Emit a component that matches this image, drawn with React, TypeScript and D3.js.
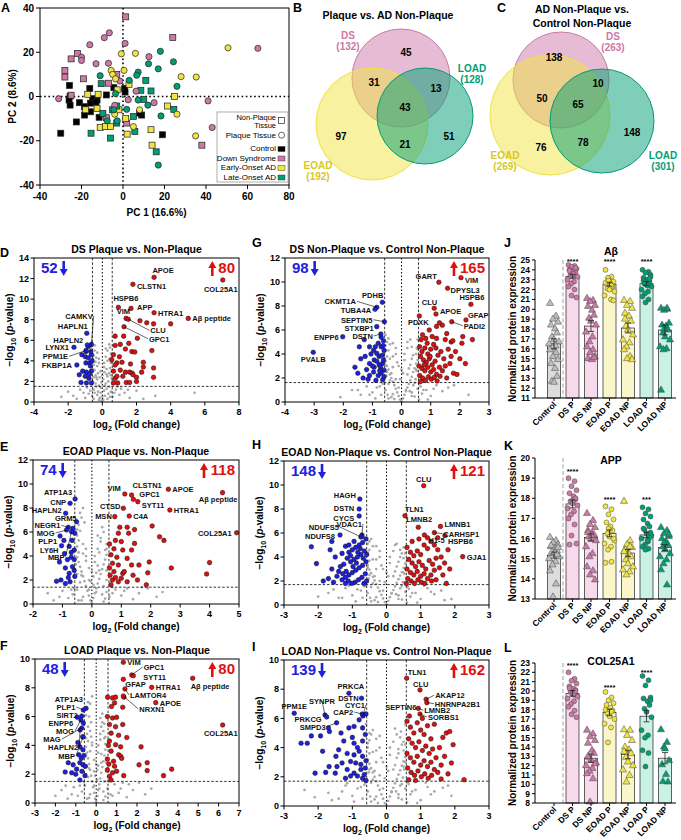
import React from "react";
import * as d3 from "d3";

const FONT = "'Liberation Sans', Arial, Helvetica, sans-serif";
const PINK = "#cc79a7";
const YELLOW = "#f0e442";
const GREEN = "#009e73";
const UP = "#e01010";
const DOWN = "#2020e0";
const GREY = "#a9a9a9";

// ---------- A: PCA ----------
const pcaControl = [[-25.8,5],[-16,3.6],[-4.4,4],[0.8,3.6],[1,2],[-25.5,0.2],[-21,-2.8],[-26,-1.6],[-25.5,-3.9],[-14.6,-1],[-12.5,-1.6],[-18.5,-8.4],[-15.7,-6.9],[-22.5,-11.5],[-30,-16.6],[-11.5,-9.4],[-8,0.7],[9,-8.4],[19,-17.3],[-15.7,-3],[-18.6,-4.6],[8,-7.5],[-13,-2.5]];
const pcaDsNP = [[1.3,36],[24,26.7],[-22,19.5],[-25,17],[-28,11.8],[-28,8.8],[-19,8],[-7,6],[-3,10],[-25,0.6],[1.8,-12],[38,-22],[-8,-9.6]];
const pcaEoadNP = [[-17,1],[-12,1],[-18,-6],[-12.5,-5.4],[-11,-14],[-8.4,-13.6],[-6,-13.6],[-2,-6],[1.3,-10],[2,-17],[13.5,-15],[14,-22],[21.5,-4.3],[24.8,0],[2.9,5.5],[-2.8,3]];
const pcaLoadNP = [[-10.5,5.8],[11,7.3],[8.6,2.8],[13.5,2.5],[10,-1.3],[-3,-4.3],[-5,-6],[5,-9],[5.7,-15.8],[-15.4,-16.6],[-6,-18.8],[16,-25],[24.5,-5.8],[-9.7,-7.6],[-3,-12]];
const pcaDsP = [[-6.6,28.8],[-9,26.6],[-16,23.4],[1,24],[-20,17.8],[-20,16.3],[-13,14.8],[-7,15],[12.5,18],[65,21.8],[-31,-1],[-1.5,7],[6.3,2.4],[15,-2.8],[41,-2],[43,-14],[-4,-4],[2.5,-1.5]];
const pcaEoadP = [[-0.8,19.3],[6,19.5],[50.6,22],[28,9],[35.3,8.8],[-5.7,11.8],[0.5,11.8],[26,-8],[35,-17.8],[-5,10],[-3.6,8],[5,-13.6],[8,-6],[-4,-8]];
const pcaLoadP = [[18,20.4],[12.3,14.8],[17,12.5],[24.3,15.7],[7.3,11],[6.6,9.6],[3,7.3],[-11,9.4],[-3.6,1.3],[26,4.6],[18.3,-8.8],[17,-31],[1.8,-5.8],[-4.4,-6],[-7.6,-11],[-2.8,-11],[12,-3.9],[7.3,-1.6]];
const pcaTicks = [-40, -20, 0, 20, 40, 60, 80];
const pcaYTicks = [-40, -20, 0, 20, 40];

// ---------- B/C: Venn ----------
const vennNames = ["DS", "EOAD", "LOAD"];
const vennBCounts = [45, 31, 13, 43, 97, 21, 51]; // DS, DS+EOAD, DS+LOAD, all, EOAD, EOAD+LOAD, LOAD
const vennBTotals = [132, 192, 128];
const vennCCounts = [138, 50, 10, 65, 76, 78, 148];
const vennCTotals = [263, 269, 301];

// ---------- Volcano D ----------
const dLabels = [["APOE",3.03,12.12],["CLSTN1",1.79,11.44],["COL25A1",7.05,11.86],["Aβ peptide",5.03,8.13],["HTRA1",3.03,8.68],["HSPB6",0.94,9.2],["APP",1.68,9.1],["VIM",1.39,8.13],["CLU",1.52,8.04],["GPC1",1.27,7.32],["CAMKV",-0.68,4.89],["HAPLN1",-0.91,6.68],["HAPLN2",-0.88,5.54],["LYNX1",-1.66,5.32],["PPM1E",-0.95,5.02],["FKBP1A",-1.49,3.6]];
const dRed = [[2.2,7.9],[2.6,7.7],[3.0,7.6],[4.0,7.6],[0.75,6.4],[1.25,6.4],[2.05,6.2],[1.05,5.6],[1.55,5.7],[0.75,5.5],[1.35,5.15],[1.73,4.9],[1.9,4.86],[2.9,5.0],[0.65,4.6],[0.85,3.8],[0.75,3.6],[1.15,3.86],[1.65,3.7],[2.4,3.86],[0.65,3.0],[1.05,3.1],[1.6,2.9],[2.4,3.4],[3.0,3.3],[0.75,2.3],[1.2,2.5],[1.75,2.8],[2.0,2.4],[3.0,2.4],[0.65,1.85],[0.9,1.85],[1.4,1.9],[1.6,1.9],[0.85,2.5],[1.35,2.9],[0.55,4.1],[1.0,4.4],[1.8,2.65],[2.0,2.0],[2.3,2.9]];
const dBlue = [[-1.2,4.6],[-1.0,4.4],[-0.82,4.3],[-0.64,4.6],[-0.96,3.8],[-0.74,3.8],[-1.15,3.0],[-0.93,2.9],[-0.64,3.0],[-1.25,1.9],[-1.0,2.5],[-0.78,2.3],[-0.64,1.85],[-0.93,1.85],[-1.35,2.65],[-0.7,3.5],[-0.82,5.4],[-0.64,5.6],[-0.96,4.9],[-0.6,4.0],[-0.75,2.7]];
const dGrey = [[-0.05,0.1],[0.05,0.2],[0,0.5],[-0.15,0.4],[0.15,0.6],[-0.1,0.9],[0.1,1.1],[-0.25,1.0],[0.25,1.3],[-0.2,1.6],[0.2,1.8],[-0.35,1.5],[0.35,2.0],[-0.3,2.2],[0.3,2.5],[-0.4,2.6],[0.4,2.8],[-0.45,3.1],[0.45,3.3],[-0.5,3.6],[0.5,3.8],[-0.4,3.9],[0.4,4.2],[-0.5,4.5],[0.5,4.7],[-0.45,5.0],[0.45,5.3],[-0.55,2.0],[0.55,2.3],[-0.5,1.2],[0.5,1.0],[-0.6,0.6],[0.6,0.5],[-0.8,0.8],[0.8,1.2],[-1.0,0.4],[1.0,0.7],[-1.3,1.2],[1.3,0.9],[-1.7,0.6],[1.6,0.4],[-2.0,1.0],[2.0,1.1],[-2.4,0.5],[2.4,0.3],[0.9,1.5],[-0.9,1.4],[3.1,0.6],[5.4,0.9],[-0.25,2.8],[0.25,3.2],[-0.3,3.5],[0.3,4.0],[-0.15,2.4],[0.12,2.9],[-0.35,4.3],[0.4,5.6],[-0.2,0.2],[0.3,0.3],[-0.45,0.9],[-0.1,3.0],[0.1,3.4],[-0.2,3.8],[0.2,4.4],[-0.3,4.8],[0.3,5.0],[-0.05,1.9],[0.05,2.2],[-0.4,1.8],[0.4,1.5],[-0.5,2.4],[0.5,2.6],[-0.55,3.2],[0.55,3.0],[-0.55,4.2],[0.55,4.4],[-0.1,1.4],[0.15,1.6],[-0.3,0.7],[0.35,0.8],[0.0,2.6],[-0.45,5.5],[0.2,5.2],[-0.2,4.2],[0.1,3.8],[-0.5,0.3],[0.7,0.9],[-0.7,1.1],[1.1,1.3],[-1.1,0.9],[1.5,1.2],[-1.5,0.3],[0.45,0.5],[-0.35,2.4],[0.25,2.7]];

// ---------- Volcano E ----------
const eLabels = [["ATP1A3",-0.57,8.75],["CNP",-0.74,8.39],["HAPLN2",-0.89,7.56],["GRM5",-0.52,6.86],["NEGR1",-0.8,6.39],["MOG",-0.86,6.17],["PLP1",-1.08,5.67],["LY6H",-1.03,4.86],["MBP",-0.69,6.03],["VIM",1.12,9.17],["CLSTN1",1.35,9.08],["GPC1",1.41,8.73],["SYT11",1.56,8.53],["CTSD",1.07,7.98],["MSN",0.78,7.28],["C4A",1.27,7.33],["APOE",2.6,9.56],["Aβ peptide",4.44,9.28],["HTRA1",2.65,7.83],["COL25A1",4.92,5.94]];
const eBlue = [[-1.1,3.5],[-0.93,4.2],[-0.77,4.8],[-0.7,3.9],[-0.6,4.5],[-0.9,3.0],[-0.77,2.55],[-0.66,3.1],[-1.05,2.0],[-0.9,1.7],[-0.74,1.85],[-0.58,2.3],[-0.83,3.7],[-0.6,3.7],[-0.67,5.3],[-0.58,5.9],[-0.64,6.3],[-0.95,5.3],[-0.6,2.8],[-0.8,2.2],[-1.2,1.9],[-0.7,4.3]];
const eRed = [[2.05,6.5],[2.3,5.6],[2.45,5.3],[2.7,3.0],[4.0,3.45],[3.9,2.5],[1.9,2.6],[1.95,3.5],[1.85,1.6],[0.95,6.4],[1.2,6.4],[1.45,6.2],[0.9,5.9],[1.25,5.9],[0.8,5.3],[1.0,5.2],[1.45,5.05],[0.75,4.6],[1.05,4.5],[1.35,4.5],[0.85,3.9],[1.2,3.8],[0.7,3.4],[0.9,3.25],[1.35,3.25],[1.6,3.25],[0.75,2.7],[1.05,2.55],[1.4,2.4],[0.7,2.0],[0.9,1.85],[1.2,1.85],[1.55,2.0],[0.65,1.6],[0.8,2.2],[1.0,2.15],[1.1,2.7],[0.6,3.0],[0.65,4.1],[0.6,5.0],[0.62,2.4]];
const eGrey = [[0,0.1],[-0.05,0.3],[0.05,0.5],[-0.1,0.7],[0.1,0.9],[-0.15,1.1],[0.15,1.3],[-0.2,1.5],[0.2,1.7],[-0.25,1.9],[0.25,2.1],[-0.3,2.3],[0.3,2.5],[-0.35,2.7],[0.35,2.9],[-0.4,3.1],[0.4,3.3],[-0.45,3.5],[0.45,3.7],[-0.5,3.9],[0.5,4.1],[-0.45,4.3],[0.45,4.5],[-0.5,4.8],[0.5,5.0],[-0.45,5.3],[-0.5,5.7],[-0.4,6.1],[-0.45,6.6],[-0.35,7.2],[-0.3,8.0],[0.3,5.5],[-0.2,3.6],[0.2,3.2],[-0.3,4.2],[0.25,4.3],[-0.5,1.2],[0.5,1.0],[0.6,0.6],[-0.65,0.8],[0.8,1.2],[-0.8,0.5],[1.0,0.7],[-1.0,1.1],[1.2,1.3],[1.4,0.4],[1.6,0.9],[1.9,1.3],[2.2,0.6],[2.4,1.0],[-1.3,0.3],[0.7,1.4],[-0.6,1.3],[0.4,0.2],[-0.35,0.3],[0.15,2.6],[-0.1,2.0],[0.05,1.6],[0.35,6.4],[0.5,2.0],[-0.1,3.0],[0.1,3.5],[-0.2,4.0],[0.2,4.6],[-0.3,5.0],[0.3,5.2],[-0.05,1.9],[0.05,2.3],[-0.4,1.8],[0.4,1.5],[-0.5,2.5],[0.5,2.8],[-0.55,3.3],[0.55,3.1],[-0.55,4.5],[0.5,4.6],[-0.1,1.2],[0.15,1.0],[-0.3,0.6],[0.35,0.8],[0,2.7],[-0.5,6.2],[0.2,5.7],[-0.2,4.6],[0.1,4.0],[-0.45,0.3],[0.7,0.9],[-0.7,1.2],[1.1,1.1],[-1.1,0.6],[1.7,1.4],[-1.5,0.9],[0.45,0.45],[-0.35,2.4],[0.25,2.8],[-0.4,7.6],[-0.25,6.8],[0.4,6.0]];

// ---------- Volcano F ----------
const fLabels = [["VIM",1.33,9.77],["GPC1",1.74,8.89],["SYT11",1.82,8.84],["GFAP",1.33,8.59],["HTRA1",2.72,8.03],["LAMTOR4",1.41,7.92],["APOE",2.92,6.97],["NRXN1",1.33,7.43],["Aβ peptide",4.73,8.66],["COL25A1",6.2,5.42],["ATP1A3",-0.5,6.58],["PLP1",-0.63,6.46],["SIRT2",-0.71,6.04],["ENPP6",-0.93,5.95],["MOG",-0.75,5.76],["MAG",-0.71,5.2],["HAPLN2",-0.79,5.07],["MBP",-0.65,4.58]];
const fRed = [[0.56,7.35],[0.8,7.3],[0.95,7.35],[1.36,7.35],[0.9,6.95],[0.75,6.7],[1.3,6.65],[0.55,6.0],[0.8,5.9],[1.0,5.95],[0.65,5.45],[0.95,5.3],[1.3,5.45],[0.73,4.85],[1.1,4.7],[1.5,4.55],[0.65,4.3],[0.95,4.05],[1.2,3.9],[2.2,3.9],[0.73,3.6],[1.1,3.35],[0.55,3.05],[0.85,2.9],[1.2,3.25],[1.25,3.1],[2.1,2.65],[2.5,2.8],[2.5,2.25],[3.7,2.35],[3.3,1.9],[0.55,2.3],[0.8,2.1],[1.0,2.2],[0.65,1.85],[1.35,1.9],[0.9,2.55],[0.73,1.6],[0.6,4.0],[0.62,2.7]];
const fBlue = [[-0.65,4.6],[-0.8,3.9],[-0.65,3.7],[-0.85,3.35],[-0.73,3.1],[-1.37,2.8],[-1.13,2.65],[-0.8,2.8],[-0.65,2.65],[-1.52,2.15],[-1.2,2.1],[-0.96,2.35],[-0.7,2.2],[-0.8,1.6],[-0.53,2.55],[-0.63,5.55],[-1.0,2.0],[-0.6,3.3],[-0.9,4.2],[-0.55,1.9]];
const fGrey = [[0,0.1],[-0.05,0.3],[0.05,0.5],[-0.1,0.7],[0.1,0.9],[-0.15,1.1],[0.15,1.3],[-0.2,1.5],[0.2,1.7],[-0.25,1.9],[0.25,2.1],[-0.3,2.3],[0.3,2.5],[-0.35,2.7],[0.35,2.9],[-0.4,3.1],[0.4,3.3],[-0.45,3.5],[0.45,3.7],[-0.5,3.9],[0.45,4.1],[-0.4,4.3],[0.4,4.5],[-0.45,4.8],[0.35,5.0],[-0.4,5.3],[0.3,5.6],[-0.35,6.0],[-0.45,6.5],[-0.3,6.9],[-0.2,7.4],[0.3,6.2],[-0.3,3.6],[0.25,3.4],[-0.2,4.0],[0.2,4.4],[-0.55,1.2],[0.55,1.0],[0.7,0.6],[-0.7,0.8],[0.9,1.3],[-0.9,0.5],[1.1,0.7],[-1.1,1.1],[1.3,1.4],[1.5,0.4],[1.8,0.9],[2.1,1.4],[2.4,0.6],[2.7,1.0],[-1.4,0.3],[-1.7,0.9],[-2.0,0.5],[0.6,1.5],[-0.6,1.45],[0.35,0.2],[-0.35,0.35],[0.1,2.6],[-0.1,2.2],[0.05,1.6],[-0.5,2.0],[0.5,2.2],[-0.1,3.0],[0.1,3.5],[-0.2,4.2],[0.2,4.8],[-0.3,5.0],[0.25,5.3],[-0.05,1.9],[0.05,2.3],[-0.4,1.8],[0.4,1.5],[-0.5,2.6],[0.5,2.8],[-0.5,3.3],[0.5,3.1],[-0.5,4.5],[0.45,4.6],[-0.1,1.2],[0.15,1.0],[-0.3,0.6],[0.35,0.8],[0,2.7],[-0.5,6.1],[0.2,5.9],[-0.25,4.6],[0.1,4.0],[-0.45,0.3],[0.8,0.5],[-0.8,1.2],[1.2,1.0],[-1.2,0.6],[1.6,1.3],[-1.5,1.2],[0.45,0.45],[-0.35,2.4],[0.25,2.8],[-0.4,7.0],[-0.25,5.6],[0.4,5.5]];

// ---------- Volcano G ----------
const gLabels = [["PDHB",-0.66,8.31],["CKMT1A",-0.85,7.89],["TUBA4A",-0.91,7.73],["SEPTIN5",-0.59,6.69],["STXBP1",-0.85,6.28],["DSTN",-0.71,5.67],["ENPP6",-2.02,5.44],["PVALB",-3.03,4.14],["GART",1.28,9.98],["VIM",2.04,10.36],["DPYSL3",1.58,9.48],["HSPB6",2.38,8.14],["CLU",1.12,7.81],["APOE",1.18,7.33],["GFAP",2.21,6.83],["PADI2",1.72,6.69],["PDXK",0.61,7.17]];
const gBlue = [[-1.28,5.2],[-1.45,4.6],[-1.1,4.6],[-0.96,4.3],[-0.8,4.9],[-0.7,4.6],[-0.6,4.3],[-1.6,2.9],[-1.5,2.4],[-1.25,3.8],[-1.1,3.2],[-0.94,3.5],[-0.77,3.8],[-0.66,3.2],[-0.6,2.65],[-0.96,2.5],[-0.8,2.2],[-0.7,2.4],[-0.6,2.1],[-1.1,2.2],[-1.4,3.6],[-0.85,4.05],[-0.66,3.9],[-0.77,3.1],[-0.94,2.9],[-0.62,5.1],[-0.7,5.4],[-1.05,4.0],[-1.2,2.7],[-1.32,2.0],[-0.88,1.8],[-0.65,1.85],[-0.72,2.9],[-0.62,3.5],[-1.0,3.0],[-0.85,3.4],[-1.15,1.9],[-0.9,4.6],[-0.63,4.7],[-0.75,2.6]];
const gRed = [[1.3,6.6],[1.4,6.4],[1.2,6.3],[1.05,5.45],[1.2,5.3],[0.83,5.3],[0.67,5.2],[1.5,5.2],[1.7,5.0],[1.76,5.1],[2.1,5.45],[2.07,4.9],[2.43,5.2],[2.19,3.2],[1.7,3.8],[1.78,2.4],[1.9,2.3],[1.66,3.2],[0.62,4.6],[0.7,4.2],[0.8,4.5],[0.9,4.0],[1.0,4.4],[1.1,4.8],[0.65,3.8],[0.75,3.5],[0.85,3.3],[0.95,3.6],[1.05,3.1],[1.15,3.4],[1.25,3.9],[1.35,4.2],[1.45,3.6],[0.6,3.0],[0.7,2.8],[0.8,2.6],[0.9,2.9],[1.0,2.5],[1.1,2.7],[1.2,2.3],[1.3,2.9],[1.4,2.6],[0.62,2.2],[0.72,2.0],[0.82,1.8],[0.92,2.1],[1.02,1.9],[1.12,2.05],[1.22,1.75],[1.32,2.15],[1.55,2.0],[1.5,3.0],[0.65,1.7],[0.78,3.1],[0.98,3.8],[1.18,4.5],[0.88,4.9],[1.6,4.4],[1.85,4.2],[2.0,3.6],[0.72,5.6],[0.95,6.0],[1.55,5.7]];
const gGrey = [[0,0.05],[-0.05,0.2],[0.05,0.3],[-0.1,0.5],[0.1,0.6],[-0.15,0.8],[0.15,0.9],[-0.2,1.1],[0.2,1.2],[-0.25,1.4],[0.25,1.5],[-0.3,1.7],[0.3,1.8],[-0.35,2.0],[0.35,2.1],[-0.4,2.3],[0.4,2.5],[-0.45,2.7],[0.45,2.8],[-0.5,3.0],[0.5,3.2],[-0.55,3.4],[0.55,3.5],[-0.5,3.8],[0.5,4.0],[-0.45,4.3],[0.52,4.5],[-0.55,4.7],[-0.5,5.0],[0.55,5.2],[-0.55,5.6],[-0.3,2.9],[0.3,3.1],[-0.4,3.6],[0.4,3.9],[-0.2,1.9],[0.2,2.3],[-0.45,1.5],[0.45,1.6],[-0.55,1.0],[0.55,1.1],[-0.7,0.6],[0.7,0.7],[-0.85,1.2],[0.85,1.0],[-1.0,0.8],[1.0,0.5],[-1.2,1.3],[1.2,1.4],[-1.4,0.6],[1.4,0.9],[-0.65,1.5],[0.65,1.3],[-1.7,1.0],[1.6,1.2],[-0.35,0.4],[0.35,0.5],[-0.25,0.25],[0.28,0.9],[-0.52,2.2],[0.52,2.6],[-0.9,0.3],[0.9,0.2],[-2.1,0.4],[2.3,0.6],[-0.4,4.8],[0.35,4.6],[0.48,1.9],[-0.48,0.6],[0.6,0.2],[-0.1,3.0],[0.1,3.5],[-0.2,4.0],[0.2,4.5],[-0.3,4.9],[0.3,5.2],[-0.05,1.9],[0.05,2.4],[-0.4,1.8],[0.4,1.4],[-0.5,2.5],[0.5,2.7],[-0.55,3.1],[0.55,3.0],[-0.55,4.3],[0.55,4.4],[-0.1,1.2],[0.15,1.0],[-0.3,0.65],[0.35,0.8],[0,2.7],[-0.45,5.3],[0.2,5.0],[-0.2,4.5],[0.1,4.0],[-0.45,0.3],[0.75,1.0],[-0.75,1.3],[1.1,1.1],[-1.1,0.6],[1.8,1.4],[-1.5,1.0],[0.45,0.45],[-0.35,2.4],[0.25,2.8],[-0.6,1.6],[0.6,1.55],[-0.3,3.8],[0.35,3.6],[-0.15,3.3]];

// ---------- Volcano H ----------
const hLabels = [["HAGH",-0.78,8.83],["DSTN",-0.8,8.0],["CYCS",-0.8,7.42],["VDAC1",-0.72,5.83],["NDUFS5",-0.75,5.67],["NDUFS8",-1.36,5.83],["CLU",1.09,9.94],["TLN1",0.54,7.44],["LMNB2",0.93,6.48],["LMNB1",1.58,6.55],["CARHSP1",1.4,6.03],["HSPB6",1.71,5.78],["H1-5",1.11,5.83],["GJA1",2.23,4.03]];
const hBlue = [[-1.6,5.3],[-2.2,4.85],[-2.05,3.45],[-1.65,4.6],[-1.5,4.0],[-1.7,2.2],[-1.55,1.9],[-1.4,2.8],[-0.6,5.5],[-0.7,5.2],[-0.8,5.0],[-0.9,4.8],[-1.0,4.6],[-1.1,4.4],[-1.2,4.9],[-0.65,4.5],[-0.75,4.2],[-0.85,4.0],[-0.95,3.8],[-1.05,3.6],[-1.15,3.9],[-1.25,3.4],[-1.35,3.2],[-0.6,3.6],[-0.7,3.3],[-0.8,3.1],[-0.9,2.9],[-1.0,2.7],[-1.1,2.5],[-1.2,2.3],[-1.3,2.1],[-0.62,2.6],[-0.72,2.3],[-0.82,2.1],[-0.92,1.9],[-1.02,1.8],[-1.12,2.0],[-0.66,1.8],[-0.58,2.0],[-0.77,4.7],[-0.88,3.5],[-0.98,3.2],[-1.18,2.8],[-1.28,2.6],[-1.45,2.4],[-0.68,3.9],[-0.58,4.2],[-0.95,5.3],[-1.1,5.0],[-0.72,5.7],[-1.3,4.3],[-1.6,3.0],[-1.85,2.0],[-1.2,1.8],[-0.84,4.4],[-1.05,4.1]];
const hRed = [[1.3,5.3],[1.5,4.6],[0.6,4.8],[0.7,4.4],[0.8,4.1],[0.9,4.5],[1.0,4.2],[1.1,5.0],[1.2,4.7],[0.65,3.8],[0.75,3.5],[0.85,3.2],[0.95,3.6],[1.05,3.3],[1.15,3.0],[1.25,3.7],[1.35,3.4],[1.45,3.9],[0.6,3.0],[0.7,2.7],[0.8,2.5],[0.9,2.8],[1.0,2.4],[1.1,2.6],[1.2,2.2],[1.3,2.5],[1.4,2.9],[0.62,2.2],[0.72,2.0],[0.82,1.8],[0.92,2.1],[1.02,1.9],[1.12,1.8],[1.32,2.0],[1.45,2.1],[1.55,3.1],[1.65,2.5],[1.75,1.8],[1.6,4.0],[1.7,3.5],[1.85,3.0],[0.75,5.3],[0.95,5.5],[1.2,5.6],[1.4,5.0],[0.58,1.8],[1.5,5.6],[1.8,4.6]];
const hGrey = [[0,0.05],[-0.05,0.25],[0.05,0.35],[-0.1,0.55],[0.1,0.65],[-0.15,0.85],[0.15,0.95],[-0.2,1.15],[0.2,1.25],[-0.25,1.45],[0.25,1.55],[-0.3,1.75],[0.3,1.85],[-0.35,2.05],[0.35,2.15],[-0.4,2.35],[0.4,2.45],[-0.45,2.65],[0.45,2.75],[-0.5,2.95],[0.5,3.1],[-0.55,3.3],[0.55,3.45],[-0.5,3.7],[0.5,3.9],[-0.55,4.2],[0.45,4.3],[-0.5,4.6],[0.5,4.8],[-0.55,5.1],[-0.45,5.5],[-0.3,3.0],[0.3,3.2],[-0.4,3.8],[0.4,4.0],[-0.2,2.0],[0.2,2.4],[-0.45,1.5],[0.45,1.6],[-0.55,1.0],[0.55,1.1],[-0.7,0.6],[0.7,0.7],[-0.85,1.3],[0.85,1.0],[-1.0,0.8],[1.0,0.5],[-1.2,1.4],[1.2,1.4],[-1.4,0.6],[1.4,0.9],[-0.65,1.55],[0.65,1.35],[-1.7,1.0],[1.6,1.2],[-0.35,0.4],[0.35,0.5],[-0.25,0.25],[0.28,0.9],[-0.52,2.2],[0.52,2.6],[-0.9,0.3],[0.9,0.2],[-2.0,0.7],[1.9,0.5],[-0.4,4.9],[0.4,4.6],[0.48,1.9],[-0.48,0.6],[0.6,0.2],[1.1,1.6],[-1.1,1.6],[-0.1,3.0],[0.1,3.5],[-0.2,4.0],[0.2,4.5],[-0.3,4.9],[0.3,5.1],[-0.05,1.9],[0.05,2.4],[-0.4,1.8],[0.4,1.4],[-0.5,2.5],[0.5,2.7],[-0.55,3.1],[0.55,3.0],[-0.55,4.4],[0.55,4.3],[-0.1,1.2],[0.15,1.0],[-0.3,0.65],[0.35,0.8],[0,2.7],[-0.5,5.3],[0.25,5.0],[-0.2,4.5],[0.1,4.0],[-0.45,0.3],[0.75,1.0],[-0.75,1.2],[1.3,1.1],[-1.3,0.6],[1.7,0.4],[-1.55,1.3],[0.45,0.45],[-0.35,2.4],[0.25,2.8],[-0.6,1.6],[0.62,1.55],[-0.3,3.8],[0.35,3.6],[-0.15,3.3]];

// ---------- Volcano I ----------
const iLabels = [["PRKCA",-1.1,7.72],["DSTN",-0.73,7.38],["CYC1",-0.69,6.16],["CAP2",-0.71,6.3],["SYNPR",-1.8,6.23],["PPM1E",-2.7,6.35],["PRKCG",-1.75,6.1],["SMPD3",-1.46,5.7],["TLN1",0.59,8.75],["CLU",0.98,7.95],["AKAP12",1.16,7.31],["HNRNPA2B1",1.18,7.08],["LMNB2",0.93,6.69],["SORBS1",0.98,6.3],["SEPTIN6",0.67,6.16]];
const iBlue = [[-1.7,5.35],[-1.67,5.1],[-2.2,4.8],[-1.93,4.8],[-2.5,4.3],[-2.32,4.3],[-1.87,3.75],[-1.48,3.4],[-1.68,2.7],[-2.09,2.25],[-1.78,2.3],[-1.5,2.25],[-1.33,5.0],[-1.1,5.35],[-0.95,5.45],[-0.8,5.9],[-0.7,5.35],[-1.25,4.45],[-0.95,4.3],[-0.7,4.45],[-1.4,3.85],[-1.15,3.6],[-0.95,3.5],[-0.8,3.75],[-0.7,3.4],[-1.3,2.95],[-1.05,3.05],[-0.9,2.95],[-0.75,2.85],[-1.45,2.7],[-1.15,2.5],[-0.95,2.25],[-0.75,2.5],[-0.65,2.15],[-0.85,2.05],[-1.05,2.05],[-1.2,1.9],[-0.7,1.9],[-0.6,6.3],[-0.62,4.9],[-0.6,3.1],[-0.62,2.6],[-0.85,4.0],[-1.0,4.7],[-0.6,1.75]];
const iRed = [[0.6,5.8],[0.7,5.4],[0.8,5.0],[0.9,5.7],[1.0,5.2],[1.1,4.9],[1.2,5.5],[1.3,4.6],[0.65,4.6],[0.75,4.3],[0.85,4.0],[0.95,4.4],[1.05,3.8],[1.15,4.1],[1.25,3.6],[1.35,3.9],[1.45,3.3],[0.6,3.6],[0.7,3.3],[0.8,3.0],[0.9,3.4],[1.0,2.8],[1.1,3.1],[1.2,2.7],[1.3,3.0],[1.4,2.5],[0.62,2.6],[0.72,2.3],[0.82,2.1],[0.92,2.4],[1.02,2.0],[1.12,2.2],[1.22,1.9],[1.32,2.1],[1.5,2.3],[1.6,2.8],[1.7,3.4],[1.55,4.0],[1.65,4.7],[1.75,5.0],[1.85,5.1],[1.9,2.95],[2.27,1.8],[1.8,2.2],[0.65,1.8],[0.85,1.75],[1.05,6.0],[1.4,5.6],[1.95,4.2],[1.6,1.85]];
const iGrey = [[0,0.05],[-0.05,0.2],[0.05,0.35],[-0.1,0.5],[0.1,0.65],[-0.15,0.8],[0.15,0.95],[-0.2,1.1],[0.2,1.25],[-0.25,1.4],[0.25,1.55],[-0.3,1.7],[0.3,1.85],[-0.35,2.0],[0.35,2.15],[-0.4,2.3],[0.4,2.45],[-0.45,2.6],[0.45,2.75],[-0.5,2.9],[0.5,3.05],[-0.55,3.2],[0.55,3.35],[-0.5,3.6],[0.5,3.8],[-0.55,4.0],[0.45,4.2],[-0.5,4.5],[0.5,4.4],[-0.45,4.9],[0.4,4.7],[-0.3,3.0],[0.3,3.3],[-0.4,3.7],[0.35,3.9],[-0.2,2.1],[0.2,2.5],[-0.45,1.6],[0.45,1.5],[-0.55,1.0],[0.55,1.2],[-0.7,0.5],[0.7,0.8],[-0.85,1.2],[0.85,1.1],[-1.0,0.7],[1.0,0.4],[-1.2,1.4],[1.2,1.3],[-1.4,0.5],[1.4,1.0],[-0.65,1.45],[0.65,1.5],[-1.7,0.9],[1.65,1.25],[-0.35,0.45],[0.35,0.55],[-0.25,0.2],[0.28,1.0],[-0.52,2.3],[0.52,2.5],[-0.95,0.3],[0.9,0.2],[-2.1,0.6],[1.9,0.7],[-0.4,5.2],[0.42,5.1],[0.48,1.95],[-0.48,0.65],[0.6,0.25],[1.15,1.6],[-1.15,1.55],[-2.4,1.1],[-0.6,5.6],[0.55,5.6],[-0.1,3.0],[0.1,3.5],[-0.2,4.0],[0.2,4.4],[-0.3,4.6],[0.3,4.9],[-0.05,1.9],[0.05,2.4],[-0.4,1.8],[0.4,1.4],[-0.5,2.5],[0.5,2.7],[-0.55,3.1],[0.55,3.0],[-0.55,4.3],[0.55,4.2],[-0.1,1.2],[0.15,1.0],[-0.3,0.65],[0.35,0.8],[0,2.7],[-0.5,5.0],[0.25,5.3],[-0.2,4.8],[0.1,4.0],[-0.45,0.3],[0.75,1.0],[-0.75,1.3],[1.3,0.8],[-1.3,1.0],[1.8,1.4],[-1.6,0.4],[0.45,0.45],[-0.35,2.4],[0.25,2.8],[-0.62,1.6],[0.62,1.6],[-0.3,3.8],[0.35,3.6],[-0.15,3.3]];

// ---------- J/K/L: bar charts ----------
const groups = ["Control", "DS P", "DS NP", "EOAD P", "EOAD NP", "LOAD P", "LOAD NP"];
const abMeans = [16.5, 23.35, 18.3, 22.55, 18.1, 22.6, 17.9];
const abSem = [0.5, 0.2, 0.55, 0.2, 0.5, 0.2, 0.5];
const abPoints = [
  [20.6,19.3,19.0,18.7,18.4,18.0,17.6,17.2,16.9,16.7,16.5,16.3,16.1,15.9,15.6,15.2,14.9,14.5,14.0,13.2,12.7,12.6],
  [24.5,24.4,24.3,24.1,24.0,23.8,23.7,23.5,23.4,23.3,23.0,22.8,22.6,22.3,22.0,21.4,21.2,23.9,23.6,24.2],
  [21.1,20.9,20.8,20.4,20.3,19.9,19.4,19.1,18.8,18.4,17.7,17.2,16.7,16.2,15.9,15.6,15.2,15.0,14.9,15.1],
  [24.0,23.3,23.1,22.8,22.6,22.5,22.3,22.1,22.0,21.8,21.4,21.0,23.2,22.7,22.4,22.9,20.9],
  [20.9,20.8,20.4,20.1,19.6,19.3,18.8,18.3,17.9,17.4,16.9,16.6,16.2,15.9,15.2,15.0,14.9,19.0],
  [24.0,23.8,23.7,23.5,23.2,23.0,22.8,22.6,22.5,22.3,22.0,21.8,21.6,21.3,21.0,20.7,23.3,22.9,22.4,23.1,22.7],
  [20.1,20.0,19.9,18.6,18.4,18.3,17.9,17.6,17.2,16.9,16.2,16.0,15.9,11.8,20.1,18.0],
];
const abStars = [["DS P", 25, "****"], ["EOAD P", 25, "****"], ["LOAD P", 25, "****"]];

const appMeans = [15.18, 17.72, 16.05, 16.26, 15.28, 16.18, 15.55];
const appSem = [0.15, 0.2, 0.18, 0.17, 0.18, 0.13, 0.14];
const appPoints = [
  [16.06,15.9,15.8,15.7,15.6,15.5,15.4,15.35,15.25,15.1,15.0,14.85,14.7,14.4,13.75,13.1,15.55,15.65,15.3,15.2],
  [19.0,18.85,18.6,18.4,18.25,18.1,17.95,17.85,17.75,17.65,17.5,17.35,17.2,17.0,16.7,16.15,15.75,15.7,17.9,18.0],
  [17.25,16.9,16.7,16.55,16.4,16.25,16.2,16.1,16.0,15.9,15.6,15.25,15.1,14.6,14.4,14.2,13.95,16.3,16.15],
  [17.6,17.45,17.2,16.95,16.8,16.6,16.4,16.25,16.1,15.9,15.75,15.6,15.45,14.8,14.85,16.5,16.0],
  [17.85,15.9,15.7,15.55,15.45,15.25,15.1,14.95,14.75,14.6,14.45,14.35,14.2,15.35,15.6],
  [17.55,17.45,17.25,17.1,16.95,16.75,16.6,16.45,16.25,16.15,16.0,15.85,15.7,15.6,15.5,15.45,16.3,16.5,15.9,16.05],
  [16.55,16.4,16.25,16.1,16.0,15.85,15.7,15.6,15.45,15.25,15.1,14.95,14.75,14.45,13.7,15.8,16.2],
];
const appStars = [["DS P", 19.4, "****"], ["EOAD P", 18.0, "****"], ["LOAD P", 18.0, "***"]];

const colMeans = [null, 19.75, 12.8, 17.7, 13.2, 17.3, 12.8];
const colSem = [null, 0.3, 0.45, 0.35, 0.45, 0.6, 0.6];
const colPoints = [
  [],
  [22.0,21.3,21.1,20.8,20.5,20.25,20.1,19.9,19.7,19.4,19.2,18.9,18.6,18.3,17.9,17.5,17.2,20.3,19.6,20.0],
  [15.8,15.4,15.1,14.7,14.4,13.65,13.3,12.9,12.6,12.3,12.0,11.7,11.4,11.15,10.6,8.1,12.2,13.0],
  [19.9,19.3,19.0,18.7,18.5,18.2,17.9,17.6,17.3,17.0,16.5,16.1,14.5,18.0,17.8],
  [15.85,15.8,15.25,14.7,14.0,13.7,13.3,12.9,12.4,12.0,11.55,10.95,10.25,13.5],
  [21.6,21.15,20.6,19.3,19.2,18.9,18.5,18.1,17.75,17.2,15.8,15.25,15.0,13.65,13.35,11.9,19.0],
  [15.85,14.5,14.0,12.55,12.1,11.05,10.25,10.3,13.8],
];
const colStars = [["DS P", 22.9, "****"], ["EOAD P", 20.5, "****"], ["LOAD P", 22.1, "****"]];

// label placement: [dx, dy, anchor, leader]
const dPos: any = { APOE:[9,-4,"middle"], CLSTN1:[4,5,"start"], COL25A1:[-2,12,"middle"], "Aβ peptide":[4,3,"start"], HTRA1:[4,3,"start"], HSPB6:[-5,-6,"start"], APP:[6,2,"start"], VIM:[4,-4,"end"], CLU:[22,14,"start",1], GPC1:[25,15,"start",1], CAMKV:[2,-33,"end",1], HAPLN1:[1,-4,"end"], HAPLN2:[-4,-2,"end"], LYNX1:[-5,3,"end"], PPM1E:[-18,9,"end",1], FKBP1A:[-5,3,"end"] };
const ePos: any = { ATP1A3:[-3,-4,"end"], CNP:[-4,2,"end"], HAPLN2:[-4,0,"end"], GRM5:[0,-1,"end"], NEGR1:[-8,1,"end",1], MOG:[-12,6,"end",1], PLP1:[-3,8,"end"], LY6H:[-3,7,"end"], MBP:[-7,28,"end",1], VIM:[-4,-3,"end"], CLSTN1:[1,-7,"start"], GPC1:[6,-2,"start"], SYT11:[4,6,"start"], CTSD:[-3,1,"end"], MSN:[-3,2,"end"], C4A:[4,3,"start"], APOE:[4,3,"start"], "Aβ peptide":[15,9,"end"], HTRA1:[4,3,"start"], COL25A1:[-5,3,"end"] };
const fPos: any = { VIM:[4,3,"start"], GPC1:[12,-5,"start",1], SYT11:[10,4,"start"], GFAP:[2,8,"start"], HTRA1:[4,3,"start"], LAMTOR4:[5,9,"start",1], APOE:[4,3,"start"], NRXN1:[16,16,"start",1], "Aβ peptide":[-2,11,"start"], COL25A1:[15,11,"end"], ATP1A3:[-3,-6,"end"], PLP1:[-8,0,"end",1], SIRT2:[-4,2,"end"], ENPP6:[-4,9,"end"], MOG:[-7,14,"end",1], MAG:[-21,14,"end",1], HAPLN2:[-2,20,"end",1], MBP:[-8,22,"end",1] };
const gPos: any = { PDHB:[1,-4,"end"], CKMT1A:[-21,-3,"end",1], TUBA4A:[-4,4,"end"], SEPTIN5:[-12,1,"end",1], STXBP1:[-3,4,"end"], DSTN:[-8,5,"end",1], ENPP6:[-4,3,"end"], PVALB:[0,10,"middle"], GART:[-2,-3,"end"], VIM:[4,5,"start"], DPYSL3:[3,5,"start"], HSPB6:[1,-4,"middle"], CLU:[3,-3,"end"], APOE:[4,0,"start"], GFAP:[2,-2,"start"], PADI2:[12,7,"start",1], PDXK:[-1,9,"middle"] };
const hPos: any = { HAGH:[-4,-1,"end"], DSTN:[-5,2,"end"], CYCS:[-5,5,"end"], VDAC1:[0,-8,"end",1], NDUFS5:[-22,-7,"end",1], NDUFS8:[-5,4,"end"], CLU:[0,-4,"middle"], TLN1:[0,-4,"start"], LMNB2:[-12,-5,"start"], LMNB1:[4,1,"start"], CARHSP1:[9,4,"start",1], HSPB6:[3,8,"start"], "H1-5":[4,8,"start"], GJA1:[4,3,"start"] };
const iPos: any = { PRKCA:[2,-4,"middle"], DSTN:[-3,3,"end"], CYC1:[2,-8,"end",1], CAP2:[-9,1,"end",1], SYNPR:[-3,-11,"middle",1], PPM1E:[0,-4,"middle"], PRKCG:[-5,5,"end"], SMPD3:[-11,7,"end",1], TLN1:[1,-3,"start"], CLU:[-7,-3,"start"], AKAP12:[9,-1,"start",1], HNRNPA2B1:[8,4,"start",1], LMNB2:[6,5,"start",1], SORBS1:[8,6,"start",1], SEPTIN6:[7,-6,"end"] };

function Pca() {
  const l = 40, r = 289, t = 8, b = 185;
  const x = d3.scaleLinear().domain([-40, 80]).range([l, r]);
  const y = d3.scaleLinear().domain([-40, 40]).range([b, t]);
  const sq = (pts: any, c: string, k: string) =>
    pts.map((p: any, i: number) => <rect key={k + i} x={x(p[0]) - 3} y={y(p[1]) - 3} width={6} height={6} fill={c} stroke="#222" strokeWidth={0.7} />);
  const ci = (pts: any, c: string, k: string) =>
    pts.map((p: any, i: number) => <circle key={k + i} cx={x(p[0])} cy={y(p[1])} r={3.1} fill={c} stroke="#222" strokeWidth={0.7} />);
  const legend = [["Control", "#000"], ["Down Syndrome", PINK], ["Early-Onset AD", YELLOW], ["Late-Onset AD", GREEN]];
  return (
    <g>
      <text x={1} y={12} fontSize={12.5} fontWeight="bold">A</text>
      <rect x={l} y={t} width={r - l} height={b - t} fill="none" stroke="#000" strokeWidth={1} />
      <line x1={x(0)} x2={x(0)} y1={t} y2={b} stroke="#000" strokeWidth={1.6} strokeDasharray="1.6,2.6" />
      <line x1={l} x2={r} y1={y(0)} y2={y(0)} stroke="#000" strokeWidth={1.6} strokeDasharray="1.6,2.6" />
      {sq(pcaControl, "#000", "c")}
      {sq(pcaDsNP, PINK, "dn")}
      {sq(pcaEoadNP, YELLOW, "en")}
      {sq(pcaLoadNP, GREEN, "ln")}
      {ci(pcaDsP, PINK, "dp")}
      {ci(pcaEoadP, YELLOW, "ep")}
      {ci(pcaLoadP, GREEN, "lp")}
      {pcaTicks.map((v) => (
        <g key={"xt" + v}>
          <line x1={x(v)} x2={x(v)} y1={b} y2={b + 4} stroke="#000" />
          <text x={x(v)} y={b + 15} textAnchor="middle" fontSize={10} fontWeight="bold">{v}</text>
        </g>
      ))}
      {pcaYTicks.map((v) => (
        <g key={"yt" + v}>
          <line x1={l - 4} x2={l} y1={y(v)} y2={y(v)} stroke="#000" />
          <text x={l - 6} y={y(v) + 3.5} textAnchor="end" fontSize={10} fontWeight="bold">{v}</text>
        </g>
      ))}
      <text x={(l + r) / 2 - 8} y={216} textAnchor="middle" fontSize={10} fontWeight="bold">PC 1 (16.6%)</text>
      <text transform={`translate(16,${(t + b) / 2}) rotate(-90)`} textAnchor="middle" fontSize={10} fontWeight="bold">PC 2 (8.6%)</text>
      <rect x={217} y={112} width={71} height={70} fill="#fff" stroke="#999" strokeWidth={0.8} />
      <text x={276} y={119.5} textAnchor="end" fontSize={7.5}>Non-Plaque</text>
      <text x={276} y={127.5} textAnchor="end" fontSize={7.5}>Tissue</text>
      <rect x={278.5} y={117.5} width={6} height={6} fill="#fff" stroke="#222" strokeWidth={0.7} />
      <text x={276} y={138} textAnchor="end" fontSize={8}>Plaque Tissue</text>
      <circle cx={281.5} cy={135.2} r={3} fill="#fff" stroke="#222" strokeWidth={0.7} />
      {legend.map(([n, c], i) => (
        <g key={n}>
          <text x={276} y={151 + i * 9.5} textAnchor="end" fontSize={8}>{n}</text>
          <rect x={278} y={146.5 + i * 9.5} width={7} height={5} fill={c} stroke="#222" strokeWidth={0.4} />
        </g>
      ))}
    </g>
  );
}

function Venn({ letter, lx, title, circles, counts, totals, numPos, namePos }: any) {
  const colors = [PINK, YELLOW, GREEN];
  const textColors = [PINK, "#d8c81c", GREEN];
  return (
    <g>
      <text x={lx} y={12} fontSize={12.5} fontWeight="bold">{letter}</text>
      {title.map((tt: any, i: number) => (
        <text key={i} x={tt[1]} y={tt[2]} textAnchor="middle" fontSize={10.5} fontWeight="bold">{tt[0]}</text>
      ))}
      {circles.map((c: any, i: number) => (
        <circle key={i} cx={c[0]} cy={c[1]} r={c[2]} fill={colors[i]} fillOpacity={0.5} stroke={colors[i]} strokeWidth={1} />
      ))}
      {counts.map((n: number, i: number) => (
        <text key={"n" + i} x={numPos[i][0]} y={numPos[i][1] + 3.5} textAnchor="middle" fontSize={10} fontWeight="bold">{n}</text>
      ))}
      {vennNames.map((n, i) => (
        <g key={n}>
          <text x={namePos[i][0]} y={namePos[i][1] + 3.5} textAnchor="middle" fontSize={10} fontWeight="bold" fill={textColors[i]}>{n}</text>
          <text x={namePos[i][0]} y={namePos[i][1] + 15} textAnchor="middle" fontSize={10} fontWeight="bold" fill={textColors[i]}>({totals[i]})</text>
        </g>
      ))}
    </g>
  );
}

function Volcano(p: any) {
  const { l, r, t, b, xd, yd, xt, yt, title, letter, lx, ly, blue, red, grey, labels, pos, down, up, thr } = p;
  const x = d3.scaleLinear().domain(xd).range([l, r]);
  const y = d3.scaleLinear().domain(yd).range([b, t]);
  const fs = 15;
  const dw = String(down).length * fs * 0.556;
  const uw = String(up).length * fs * 0.556;
  const ax1 = l + 7 + dw + 6;
  const ax2 = r - 4 - uw - 6;
  const at = t + 3;
  const dot = (pt: any, c: string, k: string) => (
    <circle key={k} cx={x(pt[0])} cy={y(pt[1])} r={2.3} fill={c} stroke="#111" strokeWidth={0.5} />
  );
  return (
    <g>
      <text x={lx} y={ly} fontSize={12.5} fontWeight="bold">{letter}</text>
      <text x={(l + r) / 2} y={t - 5} textAnchor="middle" fontSize={10.5} fontWeight="bold">{title}</text>
      {grey.map((g: any, i: number) => (
        <circle key={"g" + i} cx={x(g[0])} cy={y(g[1])} r={1.35} fill={GREY} />
      ))}
      <line x1={x(0)} x2={x(0)} y1={t} y2={b} stroke="#000" strokeWidth={1} strokeDasharray="1.5,2" />
      {[-0.58, 0.58].map((v) => (
        <line key={v} x1={x(v)} x2={x(v)} y1={t} y2={b} stroke="#000" strokeWidth={0.8} strokeDasharray="2.5,1.8" />
      ))}
      <line x1={l} x2={r} y1={y(thr)} y2={y(thr)} stroke="#000" strokeWidth={0.8} strokeDasharray="2.5,1.8" />
      {blue.map((pt: any, i: number) => dot(pt, DOWN, "b" + i))}
      {red.map((pt: any, i: number) => dot(pt, UP, "r" + i))}
      {labels.map((lb: any) => dot([lb[1], lb[2]], lb[1] < 0 ? DOWN : UP, "ld" + lb[0]))}
      {labels.map((lb: any) => {
        const lay = pos[lb[0]] || [4, 3, "start"];
        const cx = x(lb[1]), cy = y(lb[2]);
        const tx = cx + lay[0], ty = cy + lay[1];
        const ex = lay[2] === "start" ? tx - 1 : lay[2] === "end" ? tx + 1 : tx;
        return (
          <g key={"lt" + lb[0]}>
            {lay[3] ? <line x1={cx} y1={cy} x2={ex} y2={ty - 3} stroke="#000" strokeWidth={0.6} /> : null}
            <text x={tx} y={ty} textAnchor={lay[2]} fontSize={7.5} fontWeight="bold" fill="#111">{lb[0]}</text>
          </g>
        );
      })}
      <rect x={l} y={t} width={r - l} height={b - t} fill="none" stroke="#000" strokeWidth={1} />
      <text x={l + 7} y={t + 15} fontSize={fs} fontWeight="bold" fill={DOWN}>{down}</text>
      <rect x={ax1 - 1.3} y={at} width={2.6} height={9} fill={DOWN} />
      <path d={`M${ax1 - 4},${at + 8}L${ax1 + 4},${at + 8}L${ax1},${at + 15}Z`} fill={DOWN} />
      <text x={r - 4} y={t + 15} textAnchor="end" fontSize={fs} fontWeight="bold" fill={UP}>{up}</text>
      <path d={`M${ax2 - 4},${at + 7}L${ax2 + 4},${at + 7}L${ax2},${at}Z`} fill={UP} />
      <rect x={ax2 - 1.3} y={at + 6} width={2.6} height={9} fill={UP} />
      {xt.map((v: number) => (
        <g key={"x" + v}>
          <line x1={x(v)} x2={x(v)} y1={b} y2={b + 3.5} stroke="#000" />
          <text x={x(v)} y={b + 13} textAnchor="middle" fontSize={9} fontWeight="bold">{v}</text>
        </g>
      ))}
      {yt.map((v: number) => (
        <g key={"y" + v}>
          <line x1={l - 3.5} x2={l} y1={y(v)} y2={y(v)} stroke="#000" />
          <text x={l - 5} y={y(v) + 3.2} textAnchor="end" fontSize={9} fontWeight="bold">{v}</text>
        </g>
      ))}
      <text x={(l + r) / 2} y={b + 26} textAnchor="middle" fontSize={10} fontWeight="bold">
        log<tspan dy={2.5} fontSize={7}>2</tspan><tspan dy={-2.5}> (Fold change)</tspan>
      </text>
      <text transform={`translate(${l - 21},${(t + b) / 2}) rotate(-90)`} textAnchor="middle" fontSize={10} fontWeight="bold">
        −log<tspan dy={2.5} fontSize={7}>10</tspan><tspan dy={-2.5}> (</tspan><tspan fontStyle="italic">p</tspan>-value)
      </text>
    </g>
  );
}

const groupColor = ["#bdbdbd", PINK, PINK, YELLOW, YELLOW, GREEN, GREEN];
const barColor = ["#dcdcdc", "#f6d9ea", "#f6d9ea", "#fbf6c9", "#fbf6c9", "#c9f1e4", "#c9f1e4"];
const isPlaque = [false, true, false, true, false, true, false];
const jitter = [-4, 2, -1, 4, -3, 1, 3, -2, 0, 5, -5, 1.5, -1.5];

function Bars({ letter, ly, title, titleY, t, b, yd, means, sems, pts, stars }: any) {
  const x = d3.scalePoint().domain(groups).range([554, 665]);
  const y = d3.scaleLinear().domain(yd).range([b, t]);
  const ticks = d3.range(yd[0], yd[1] + 1);
  const bw = 13;
  const tri = d3.symbol(d3.symbolTriangle, 22)();
  return (
    <g>
      <text x={504} y={ly} fontSize={12.5} fontWeight="bold">{letter}</text>
      <text x={611} y={titleY} textAnchor="middle" fontSize={10.5} fontWeight="bold">{title}</text>
      <line x1={563} x2={563} y1={t} y2={b} stroke="#888" strokeWidth={0.8} strokeDasharray="4,2.5" />
      {groups.map((g, i) =>
        means[i] == null ? null : (
          <rect key={"bar" + g} x={(x(g) as number) - bw / 2} y={y(means[i])} width={bw} height={b - y(means[i])} fill={barColor[i]} stroke="#222" strokeWidth={0.7} />
        )
      )}
      {groups.map((g, i) =>
        pts[i].map((v: number, j: number) => {
          const cx = (x(g) as number) + jitter[j % jitter.length];
          const cy = y(v);
          return isPlaque[i] ? (
            <circle key={g + j} cx={cx} cy={cy} r={2.5} fill={groupColor[i]} stroke="#444" strokeWidth={0.5} />
          ) : (
            <path key={g + j} d={tri as string} transform={`translate(${cx},${cy})`} fill={groupColor[i]} stroke="#444" strokeWidth={0.5} />
          );
        })
      )}
      {groups.map((g, i) =>
        means[i] == null ? null : (
          <g key={"err" + g} stroke="#222" strokeWidth={0.8}>
            <line x1={x(g)} x2={x(g)} y1={y(means[i] - sems[i])} y2={y(means[i] + sems[i])} />
            <line x1={(x(g) as number) - 3} x2={(x(g) as number) + 3} y1={y(means[i] + sems[i])} y2={y(means[i] + sems[i])} />
            <line x1={(x(g) as number) - 3} x2={(x(g) as number) + 3} y1={y(means[i] - sems[i])} y2={y(means[i] - sems[i])} />
          </g>
        )
      )}
      {stars.map((s: any) => (
        <text key={"s" + s[0]} x={x(s[0])} y={y(s[1]) + 4} textAnchor="middle" fontSize={7.5} fontWeight="bold">{s[2]}</text>
      ))}
      <line x1={535} x2={535} y1={t} y2={b} stroke="#000" strokeWidth={1} />
      <line x1={535} x2={676} y1={b} y2={b} stroke="#000" strokeWidth={1} />
      {ticks.map((v: number) => (
        <g key={"t" + v}>
          <line x1={532} x2={535} y1={y(v)} y2={y(v)} stroke="#000" />
          <text x={530} y={y(v) + 3} textAnchor="end" fontSize={8.5} fontWeight="bold">{v}</text>
        </g>
      ))}
      {groups.map((g) => (
        <g key={"xl" + g}>
          <line x1={x(g)} x2={x(g)} y1={b} y2={b + 3} stroke="#000" />
          <text transform={`translate(${(x(g) as number) + 3},${b + 7}) rotate(-45)`} textAnchor="end" fontSize={8.5} fontWeight="bold">{g}</text>
        </g>
      ))}
      <text transform={`translate(516,${(t + b) / 2}) rotate(-90)`} textAnchor="middle" fontSize={10} fontWeight="bold">Normalized protein expression</text>
    </g>
  );
}

export default function App() {
  return (
    <svg width={681} height={840} fontFamily={FONT} style={{ position: "absolute", left: 0, top: 0, display: "block" }}>
      <rect width={681} height={840} fill="#fff" />
      <Pca />
      <Venn letter="B" lx={293} title={[["Plaque vs. AD Non-Plaque", 388, 19]]}
        circles={[[401, 78, 49], [372, 124, 56], [425, 116, 48]]}
        counts={vennBCounts} totals={vennBTotals}
        numPos={[[406, 52], [374, 82], [436, 88], [405, 107], [341, 136], [405, 144], [449, 136]]}
        namePos={[[348, 35], [318, 165], [472, 68]]} />
      <Venn letter="C" lx={497} title={[["AD Non-Plaque vs.", 582, 13], ["Control Non-Plaque", 582, 27]]}
        circles={[[561, 80, 48], [550, 115, 60], [602, 121, 52]]}
        counts={vennCCounts} totals={vennCTotals}
        numPos={[[554, 57], [542, 98], [598, 83], [578, 104], [541, 147], [583, 142], [632, 132]]}
        namePos={[[613, 36], [505, 155], [663, 155]]} />
      <Volcano l={34} r={239} t={258} b={402} xd={[-4, 8]} yd={[0, 14]} xt={[-4, -2, 0, 2, 4, 6, 8]} yt={[0, 2, 4, 6, 8, 10, 12, 14]}
        title="DS Plaque vs. Non-Plaque" letter="D" lx={0} ly={257} blue={dBlue} red={dRed} grey={dGrey} labels={dLabels} pos={dPos} down={52} up={80} thr={1.52} />
      <Volcano l={33} r={239} t={460} b={604} xd={[-2, 5]} yd={[0, 12]} xt={[-2, -1, 0, 1, 2, 3, 4, 5]} yt={[0, 2, 4, 6, 8, 10, 12]}
        title="EOAD Plaque vs. Non-Plaque" letter="E" lx={0} ly={451} blue={eBlue} red={eRed} grey={eGrey} labels={eLabels} pos={ePos} down={74} up={118} thr={1.4} />
      <Volcano l={35} r={239} t={659} b={803} xd={[-3, 7]} yd={[0, 10]} xt={[-3, -2, -1, 0, 1, 2, 3, 4, 5, 6, 7]} yt={[0, 2, 4, 6, 8, 10]}
        title="LOAD Plaque vs. Non-Plaque" letter="F" lx={0} ly={650} blue={fBlue} red={fRed} grey={fGrey} labels={fLabels} pos={fPos} down={48} up={80} thr={1.5} />
      <Volcano l={285} r={489} t={258} b={402} xd={[-4, 3]} yd={[0, 12]} xt={[-4, -3, -2, -1, 0, 1, 2, 3]} yt={[0, 2, 4, 6, 8, 10, 12]}
        title="DS Non-Plaque vs. Control Non-Plaque" letter="G" lx={252} ly={247} blue={gBlue} red={gRed} grey={gGrey} labels={gLabels} pos={gPos} down={98} up={165} thr={1.62} />
      <Volcano l={284} r={489} t={461} b={605} xd={[-3, 3]} yd={[0, 12]} xt={[-3, -2, -1, 0, 1, 2, 3]} yt={[0, 2, 4, 6, 8, 10, 12]}
        title="EOAD Non-Plaque vs. Control Non-Plaque" letter="H" lx={252} ly={449} blue={hBlue} red={hRed} grey={hGrey} labels={hLabels} pos={hPos} down={148} up={121} thr={1.7} />
      <Volcano l={284} r={489} t={660} b={806} xd={[-3, 3]} yd={[0, 10]} xt={[-3, -2, -1, 0, 1, 2, 3]} yt={[0, 2, 4, 6, 8, 10]}
        title="LOAD Non-Plaque vs. Control Non-Plaque" letter="I" lx={252} ly={651} blue={iBlue} red={iRed} grey={iGrey} labels={iLabels} pos={iPos} down={139} up={162} thr={1.7} />
      <Bars letter="J" ly={247} title="Aβ" titleY={255} t={260} b={398} yd={[11, 25]} means={abMeans} sems={abSem} pts={abPoints} stars={abStars} />
      <Bars letter="K" ly={450} title="APP" titleY={464} t={458} b={599} yd={[13, 20]} means={appMeans} sems={appSem} pts={appPoints} stars={appStars} />
      <Bars letter="L" ly={652} title="COL25A1" titleY={665} t={663} b={803} yd={[8, 23]} means={colMeans} sems={colSem} pts={colPoints} stars={colStars} />
    </svg>
  );
}
